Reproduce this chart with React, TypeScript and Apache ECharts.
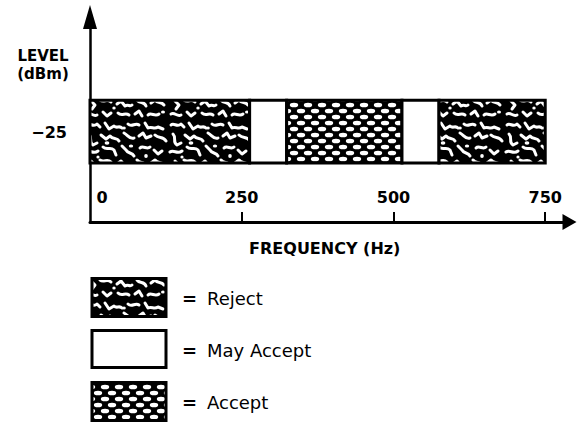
import React, { useEffect, useRef } from 'react';
import * as echarts from 'echarts';

// ---- data ----
const zoneNames = ['Reject', 'May Accept', 'Accept'];
const segStart = [0, 263, 324, 514, 575];
const segEnd = [263, 324, 514, 575, 750];
const segType = [0, 1, 2, 1, 0];
const bandTop = -12.5;
const bandBottom = -37;
const xLabelValues = [0, 250, 500, 750];
const xTickValues = [250, 500, 750];
const yLabelValues = [-25];
const legendOrder = [0, 1, 2];

// ---- pattern tiles ----
const svgUrl = (s: string) => 'data:image/svg+xml;charset=utf-8,' + encodeURIComponent(s);

const rejectSvg =
  "<svg xmlns='http://www.w3.org/2000/svg' width='84' height='60'>" +
  "<rect width='84' height='60' fill='black'/>" +
  "<g fill='none' stroke='white' stroke-width='3' stroke-linecap='round' stroke-linejoin='round'>" +
  "<path d='M3 5 C6 2 9 8 13 4 L16 7'/>" +
  "<path d='M21 3 L25 9 L30 6 C33 9 35 5 38 8'/>" +
  "<path d='M44 4 C48 8 51 2 55 5'/>" +
  "<path d='M61 3 L64 8 C68 6 70 10 74 7 L79 9'/>" +
  "<path d='M5 14 C9 18 4 22 9 25 L13 23'/>" +
  "<path d='M17 15 L22 19 L26 16 C29 20 33 17 35 21'/>" +
  "<path d='M40 13 C44 15 46 20 50 18'/>" +
  "<path d='M55 16 L59 13 L62 18 L67 16'/>" +
  "<path d='M71 15 C75 19 79 16 82 21'/>" +
  "<path d='M2 32 C6 29 9 35 14 31'/>" +
  "<path d='M19 27 C23 31 26 26 30 30 L32 35'/>" +
  "<path d='M38 26 L42 30 C44 34 48 32 50 36'/>" +
  "<path d='M56 28 C59 25 63 30 66 27'/>" +
  "<path d='M70 30 L74 34 L78 31'/>" +
  "<path d='M7 41 L11 45 L8 49'/>" +
  "<path d='M16 40 C20 43 23 38 27 42'/>" +
  "<path d='M33 44 L37 41 L41 46 C44 44 46 47 48 45'/>" +
  "<path d='M53 40 C56 44 60 41 62 46'/>" +
  "<path d='M67 43 L71 40 C74 44 77 41 80 45'/>" +
  "<path d='M3 54 C7 52 9 57 13 55'/>" +
  "<path d='M19 52 L23 56 L27 53'/>" +
  "<path d='M34 53 C38 57 41 52 45 55'/>" +
  "<path d='M51 54 L55 51 L58 56'/>" +
  "<path d='M64 55 C67 52 71 57 75 54'/>" +
  "</g>" +
  "<g fill='white'>" +
  "<ellipse cx='23' cy='23' rx='2.4' ry='1.8'/>" +
  "<ellipse cx='40' cy='8' rx='1.8' ry='1.5'/>" +
  "<ellipse cx='47' cy='26' rx='2.2' ry='1.6'/>" +
  "<ellipse cx='62' cy='36' rx='1.8' ry='2'/>" +
  "<ellipse cx='14' cy='37' rx='1.6' ry='1.6'/>" +
  "<ellipse cx='79' cy='52' rx='2' ry='1.6'/>" +
  "<ellipse cx='30' cy='48' rx='1.7' ry='1.5'/>" +
  "</g></svg>";

const acceptSvg =
  "<svg xmlns='http://www.w3.org/2000/svg' width='14' height='12'>" +
  "<rect width='14' height='12' fill='black'/>" +
  "<g fill='white'>" +
  "<ellipse cx='7' cy='3' rx='4.2' ry='2.3'/>" +
  "<ellipse cx='0' cy='9' rx='4.2' ry='2.3'/>" +
  "<ellipse cx='14' cy='9' rx='4.2' ry='2.3'/>" +
  "</g></svg>";

const rejectFill: any = { image: svgUrl(rejectSvg), repeat: 'repeat', imageWidth: 84, imageHeight: 60 };
const acceptFill: any = { image: svgUrl(acceptSvg), repeat: 'repeat', imageWidth: 14, imageHeight: 12 };
const zoneFills: any[] = [rejectFill, '#ffffff', acceptFill];

const FONT = 'DejaVu Sans';

export default function App() {
  const ref = useRef<HTMLDivElement>(null);

  useEffect(() => {
    if (!ref.current) return;
    const chart = echarts.init(ref.current, null, { renderer: 'svg' });

    const data = segStart.map((s, i) => [s, segEnd[i], segType[i], bandTop, bandBottom]);

    const legendTops = [277, 329, 381];
    const legendHeights = [41, 40, 41];
    const legendGraphics: any[] = [];
    legendOrder.forEach((t, i) => {
      const top = legendTops[i];
      const h = legendHeights[i];
      legendGraphics.push({
        type: 'rect',
        shape: { x: 92, y: top + 1.5, width: 74, height: h - 3 },
        style: { fill: zoneFills[t], stroke: '#000', lineWidth: 3 },
      });
      legendGraphics.push({
        type: 'text',
        x: 182,
        y: top + h / 2 + 1,
        style: { text: '=', font: `bold 18px "${FONT}"`, fill: '#000', verticalAlign: 'middle', align: 'left' },
      });
      legendGraphics.push({
        type: 'text',
        x: 207,
        y: top + h / 2 + 1,
        style: { text: zoneNames[t], font: `18px "${FONT}"`, fill: '#000', verticalAlign: 'middle', align: 'left' },
      });
    });

    chart.setOption({
      animation: false,
      backgroundColor: '#ffffff',
      grid: { left: 90, right: 12.5, top: 17, bottom: 202 },
      xAxis: {
        type: 'value',
        min: 0,
        max: 790,
        interval: 250,
        name: 'FREQUENCY (Hz)',
        nameLocation: 'middle',
        nameGap: 18,
        nameTextStyle: {
          fontFamily: FONT,
          fontWeight: 'bold',
          fontSize: 16,
          color: '#000',
          padding: [0, 10, 0, 0],
        },
        axisLine: {
          show: true,
          onZero: false,
          symbol: ['none', 'triangle'],
          symbolSize: [16, 14],
          lineStyle: { color: '#000', width: 3 },
        },
        axisTick: {
          show: true,
          inside: true,
          length: 10,
          customValues: xTickValues,
          lineStyle: { color: '#000', width: 2 },
        },
        axisLabel: {
          inside: true,
          margin: 17,
          customValues: xLabelValues,
          color: '#000',
          fontFamily: FONT,
          fontWeight: 'bold',
          fontSize: 16,
          formatter: (v: number) => (v === 0 ? '{z|0}' : xLabelValues.indexOf(v) >= 0 ? String(v) : ''),
          rich: {
            z: { padding: [0, 0, 0, 24], fontFamily: FONT, fontWeight: 'bold', fontSize: 16, color: '#000' },
          },
        },
        splitLine: { show: false },
      },
      yAxis: {
        type: 'value',
        min: -60,
        max: 20,
        interval: 5,
        axisLine: {
          show: true,
          onZero: false,
          symbol: ['none', 'triangle'],
          symbolSize: [14, 24],
          lineStyle: { color: '#000', width: 2.5 },
        },
        axisTick: { show: false },
        axisLabel: {
          margin: 23,
          customValues: yLabelValues,
          color: '#000',
          fontFamily: FONT,
          fontWeight: 'bold',
          fontSize: 16,
          formatter: (v: number) => (yLabelValues.indexOf(v) >= 0 ? '\u2212' + Math.abs(v) : ''),
        },
        splitLine: { show: false },
      },
      graphic: [
        {
          type: 'text',
          x: 43,
          y: 56,
          style: { text: 'LEVEL', font: `bold 15px "${FONT}"`, fill: '#000', align: 'center', verticalAlign: 'middle' },
        },
        {
          type: 'text',
          x: 43,
          y: 74,
          style: { text: '(dBm)', font: `bold 15px "${FONT}"`, fill: '#000', align: 'center', verticalAlign: 'middle' },
        },
        ...legendGraphics,
      ],
      series: [
        {
          type: 'custom',
          name: 'Frequency bands',
          clip: false,
          encode: { x: [0, 1], y: [3, 4] },
          data,
          renderItem: (params: any, api: any) => {
            const s = api.value(0);
            const e = api.value(1);
            const t = api.value(2);
            const p0 = api.coord([s, api.value(3)]);
            const p1 = api.coord([e, api.value(4)]);
            return {
              type: 'rect',
              shape: { x: p0[0], y: p0[1], width: p1[0] - p0[0], height: p1[1] - p0[1] },
              style: { fill: zoneFills[t], stroke: '#000', lineWidth: 3 },
            };
          },
        },
      ],
    });

    return () => chart.dispose();
  }, []);

  return (
    <div
      ref={ref}
      style={{ position: 'fixed', left: 0, top: 0, width: 582, height: 424, background: '#fff' }}
    />
  );
}
